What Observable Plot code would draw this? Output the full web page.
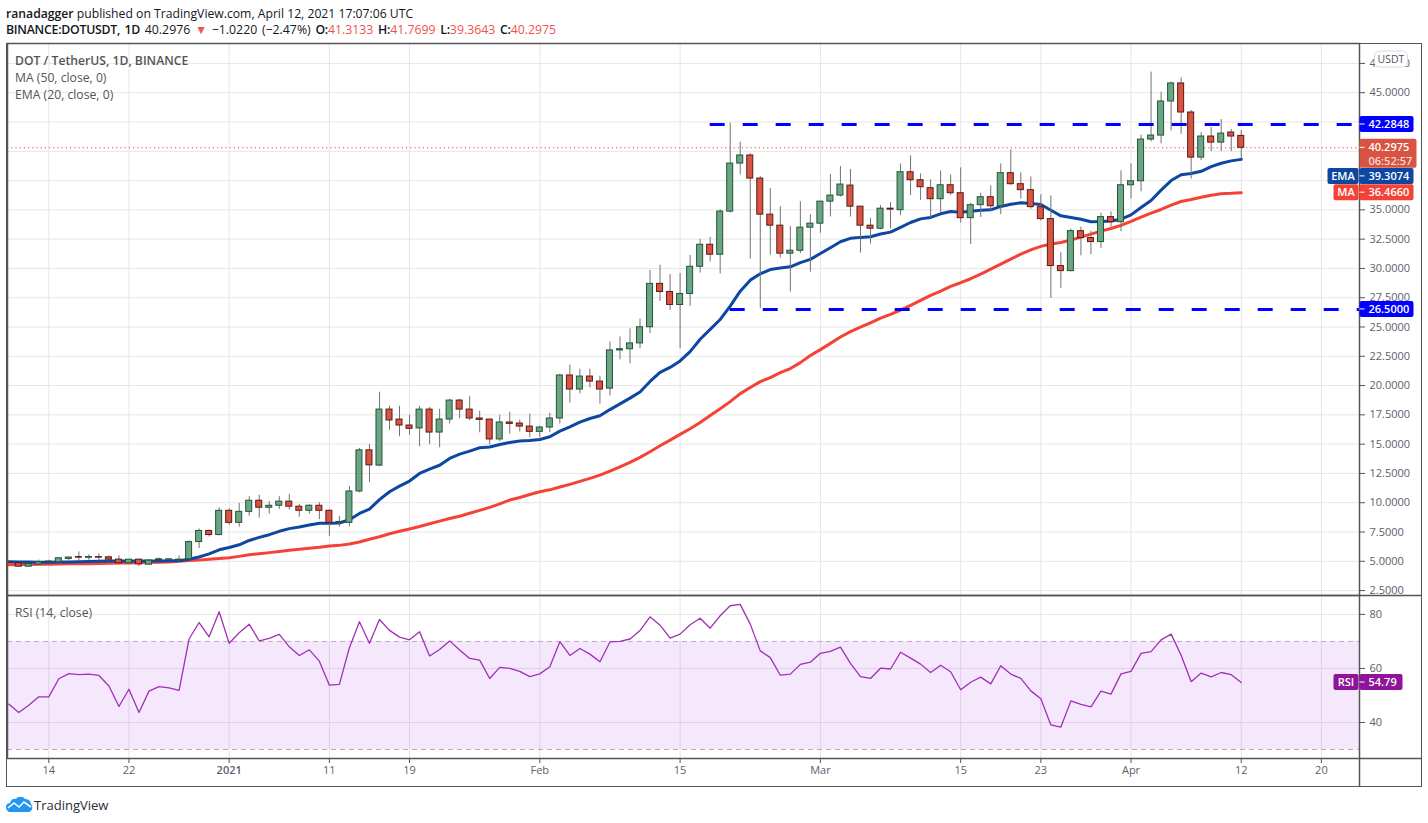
<!DOCTYPE html>
<html>
<head>
<meta charset="utf-8">
<script src="https://cdn.jsdelivr.net/npm/d3@7"></script>
<script src="https://cdn.jsdelivr.net/npm/@observablehq/plot@0.6"></script>
<style>
html,body{margin:0;padding:0;background:#fff;overflow:hidden}
#wrap{position:relative;width:1428px;height:823px;font-family:"Open Sans",sans-serif;color:#131722}
#wrap svg.pane{position:absolute;left:0;background:transparent;overflow:visible}
.h{position:absolute;left:6px;white-space:nowrap;font-size:12.2px;line-height:16px}
.h b{font-weight:600}
.r{color:#ef5350}
#outer{position:absolute;left:6px;top:43px;width:1414px;height:742px;border:1.5px solid #555;pointer-events:none}
#brand{position:absolute;left:34px;top:796px;font-size:13px;line-height:18px;color:#2a2e39}
#logo{position:absolute;left:6px;top:796px}
#line2 b{letter-spacing:-0.25px}
</style>
</head>
<body>
<div id="wrap">
  <div class="h" style="top:6px"><b>ranadagger</b> published on TradingView.com, April 12, 2021 17:07:06 UTC</div>
  <div class="h" id="line2" style="top:22px;font-size:12.3px;word-spacing:1.5px"><b>BINANCE:DOTUSDT, 1D</b> 40.2976 <span class="r">▼</span> −1.0220 (−2.47%) <b>O:</b><span class="r">41.3133</span> <b>H:</b><span class="r">41.7699</span> <b>L:</b><span class="r">39.3643</span> <b>C:</b><span class="r">40.2975</span></div>
  <svg id="logo" width="27" height="17" viewBox="0 0 27 17"><path d="M0 11 C0 8 2 7 4 7 C5 3 8 2 10 3 C12 0 17 0 19 3 C23 3 25 6 25 8 C27 10 27 15 23 16 L3 16 C1 15 0 13 0 11Z" fill="#2196f3"/><path d="M2 12 L8 7 L13 11 L18 6 L25 11" fill="none" stroke="#fff" stroke-width="1.6"/></svg>
  <div id="brand">TradingView</div>
</div>
<script>
const opens = [
4.92,4.83,4.54,4.71,4.92,4.91,5.20,5.36,5.30,5.36,
5.34,5.14,4.83,5.14,4.71,5.09,5.15,5.10,5.17,6.64,
7.59,7.24,9.31,8.28,9.22,10.17,9.57,9.74,10.09,9.66,
9.31,9.74,9.31,8.28,8.28,10.96,14.47,13.17,17.95,17.10,
16.59,16.34,17.95,15.99,17.10,18.72,17.95,17.19,17.10,15.40,
16.85,16.76,16.50,16.05,16.42,17.19,20.86,19.66,20.77,20.34,
19.74,23.00,23.10,23.60,24.98,28.68,27.99,26.88,27.82,30.14,
32.02,31.17,34.85,38.95,39.64,37.67,34.59,33.65,31.26,31.51,
33.48,33.82,35.70,36.22,37.07,35.27,33.65,33.39,35.10,34.97,
38.21,37.53,36.85,35.91,37.10,36.42,34.29,35.40,36.08,35.31,
38.13,37.19,36.68,35.23,34.21,30.20,29.77,33.18,32.59,32.25,
34.38,33.95,37.10,37.44,41.00,41.34,44.25,45.79,43.31,39.46,
41.26,40.74,41.60,41.3133];
const closes = [
4.88,4.54,4.77,4.91,4.98,5.26,5.32,5.31,5.36,5.31,
5.14,4.83,5.14,4.74,5.06,5.17,5.17,5.14,6.64,7.59,
7.24,9.31,8.28,9.22,10.17,9.57,9.74,10.09,9.66,9.31,
9.74,9.31,8.28,8.36,10.96,14.47,13.19,17.95,17.02,16.59,
16.31,17.95,15.99,17.10,18.72,17.95,17.19,17.07,15.40,16.85,
16.73,16.50,16.05,16.42,17.19,20.86,19.66,20.77,20.34,19.66,
23.00,23.10,23.60,24.98,28.68,27.99,26.88,27.82,30.14,32.02,
31.17,34.85,38.95,39.64,37.67,34.59,33.65,31.26,31.51,33.48,
33.82,35.70,36.22,37.16,35.27,33.65,33.39,35.10,35.02,38.21,
37.53,36.93,35.91,37.10,36.42,34.29,35.40,36.08,35.31,38.13,
37.19,36.68,35.23,34.21,30.20,29.77,33.18,32.59,32.25,34.38,
33.95,37.10,37.44,41.00,41.34,44.25,45.79,43.31,39.46,41.26,
40.74,41.51,41.26,40.2975];
const highs = [
4.98,4.88,4.80,5.10,5.08,5.27,5.35,5.80,5.55,5.63,
5.46,5.46,5.14,5.16,5.08,5.29,5.24,5.46,6.75,7.76,
7.67,9.57,9.48,9.94,10.52,10.63,10.09,10.52,10.72,9.86,
9.83,10.00,9.40,8.82,11.40,14.64,14.98,19.43,18.24,18.24,
17.47,18.24,18.13,17.98,18.84,18.84,19.09,17.81,17.12,17.47,
17.73,17.05,17.56,16.53,17.64,20.97,21.75,21.40,21.40,20.80,
23.72,24.15,24.84,25.67,29.83,30.26,29.48,29.57,31.10,32.48,
32.65,35.02,42.40,40.78,39.80,37.84,36.81,35.27,33.59,35.70,
34.59,35.72,38.01,38.70,38.44,35.30,34.28,35.36,35.62,38.92,
39.60,38.07,37.56,38.33,37.98,38.58,35.57,36.42,37.05,38.92,
40.12,38.16,37.81,36.28,36.19,31.34,33.35,33.52,33.18,34.72,
34.83,38.33,38.92,41.37,46.76,45.05,45.91,46.25,43.48,41.60,
42.03,42.71,41.86,41.7699];
const lows = [
4.85,4.52,4.50,4.70,4.90,4.85,5.05,5.03,5.03,5.03,
5.00,4.68,4.83,4.54,4.68,5.05,5.08,4.95,5.15,6.09,
7.07,7.18,8.10,7.90,8.85,8.68,9.02,9.43,9.37,8.76,
9.02,8.56,7.13,7.90,7.93,10.84,11.70,13.07,16.19,15.63,
15.77,14.77,14.97,14.69,16.73,17.16,16.99,15.97,14.92,15.20,
15.85,16.05,15.57,15.57,15.97,16.73,18.51,19.28,19.80,18.42,
19.11,22.20,21.86,23.15,24.44,27.19,26.42,23.15,26.76,29.60,
30.54,29.52,34.73,37.98,30.80,26.55,31.14,30.88,27.98,31.26,
29.69,33.00,34.39,36.10,34.39,31.31,32.08,33.30,33.39,34.52,
36.22,35.80,34.29,34.72,36.25,33.87,32.05,34.35,34.89,34.60,
37.10,35.91,35.06,34.04,27.44,28.30,29.70,31.08,31.17,31.71,
33.52,33.13,35.94,36.54,40.80,40.63,41.74,41.46,37.64,39.20,
39.97,39.97,39.97,39.3643];
const emaValues = [
4.96,4.95,4.93,4.92,4.92,4.93,4.95,4.97,4.99,5.00,
5.02,5.02,5.02,5.03,5.02,5.03,5.04,5.05,5.17,5.37,
5.63,5.98,6.18,6.41,6.78,7.04,7.27,7.56,7.79,7.93,
8.10,8.25,8.25,8.27,8.55,9.08,9.45,10.27,10.94,11.42,
11.85,12.50,12.87,13.20,13.78,14.15,14.40,14.69,14.75,14.97,
15.14,15.26,15.31,15.40,15.63,16.11,16.48,16.88,17.19,17.42,
17.95,18.44,18.93,19.45,20.35,21.12,21.55,22.10,22.90,23.95,
24.80,25.64,26.78,28.06,29.00,29.54,29.90,30.03,30.14,30.49,
30.77,31.28,31.77,32.28,32.57,32.65,32.71,32.94,33.10,33.50,
33.92,34.23,34.35,34.66,34.86,34.80,34.89,34.97,35.00,35.29,
35.48,35.60,35.54,35.46,34.97,34.49,34.35,34.20,33.98,34.00,
34.04,34.20,34.57,35.20,35.80,36.68,37.50,38.00,38.10,38.29,
38.69,38.98,39.18,39.31];
const maValues = [
4.71,4.72,4.73,4.74,4.75,4.77,4.78,4.79,4.80,4.82,
4.83,4.85,4.86,4.87,4.89,4.91,4.95,5.00,5.06,5.10,
5.17,5.24,5.31,5.42,5.56,5.65,5.74,5.84,5.94,6.03,
6.11,6.19,6.31,6.36,6.48,6.65,6.88,7.10,7.35,7.56,
7.76,7.97,8.20,8.43,8.65,8.85,9.10,9.35,9.60,9.90,
10.23,10.45,10.70,10.94,11.10,11.34,11.57,11.82,12.08,12.36,
12.70,13.07,13.44,13.87,14.35,14.86,15.34,15.83,16.31,16.85,
17.45,18.03,18.63,19.31,19.83,20.34,20.68,21.10,21.45,21.96,
22.56,23.07,23.60,24.15,24.60,24.98,25.35,25.75,26.08,26.45,
26.85,27.27,27.70,28.07,28.47,28.78,29.12,29.52,29.94,30.37,
30.80,31.22,31.59,31.88,32.08,32.22,32.42,32.67,32.93,33.18,
33.41,33.67,34.01,34.38,34.72,35.03,35.40,35.71,35.88,36.07,
36.24,36.38,36.41,36.47];
const rsiValues = [
46.8,43.7,46.4,49.5,49.5,56.2,58.1,57.7,57.9,57.4,
53.5,45.9,52.3,43.7,51.6,53.3,52.8,51.9,70.9,77.0,
71.7,81.0,69.3,73.2,76.4,70.2,71.1,72.6,68.0,64.8,
66.9,62.7,53.8,54.1,67.7,77.3,69.3,78.1,74.1,71.6,
70.6,73.6,64.6,67.0,70.2,66.8,63.7,63.1,56.3,60.4,
60.0,58.9,57.0,58.0,60.6,69.9,64.8,67.4,65.3,62.5,
69.8,70.0,70.9,74.0,79.1,76.0,71.2,72.7,76.2,78.6,
74.9,79.5,83.2,83.7,76.4,66.5,64.0,57.5,57.9,61.5,
62.3,65.6,66.3,67.9,61.9,57.0,56.3,60.1,59.8,66.0,
63.8,61.6,58.5,61.2,58.8,52.1,54.9,56.8,54.3,61.0,
57.9,56.3,51.7,48.8,39.1,38.3,48.0,46.7,45.8,51.6,
50.5,58.0,58.9,65.6,66.2,70.6,72.7,64.9,55.1,58.3,
56.9,58.5,57.7,54.79];
const priceTicks = d3.range(2.5, 47.6, 2.5);
const rsiTicks = [80, 60, 40];
const dayTicks = [
  [2020,11,14,"14"],[2020,11,22,"22"],[2021,0,11,"11"],[2021,0,19,"19"],[2021,1,1,"Feb"],
  [2021,1,15,"15"],[2021,2,1,"Mar"],[2021,2,15,"15"],[2021,2,23,"23"],[2021,3,1,"Apr"],
  [2021,3,12,"12"],[2021,3,20,"20"]];
const yearTick = [2021,0,1,"2021"];
const resistance = 42.2848, support = 26.5, lastPrice = 40.2975;

const DAY = 864e5;
const start = Date.UTC(2020,11,10);
const dayOf = i => new Date(start + i*DAY);
const candles = opens.map((o,i)=>({date:dayOf(i),o,c:closes[i],h:highs[i],l:lows[i],up:closes[i]>=o,ema:emaValues[i],ma:maValues[i],rsi:rsiValues[i]}));
const xDomain = [dayOf(-0.122), dayOf(134.8)];
const mk = t => new Date(Date.UTC(t[0],t[1],t[2]));
const labelMap = new Map([...dayTicks,yearTick].map(t=>[+mk(t),t[3]]));
const xTicks = [...dayTicks,yearTick].map(mk);
const GRID="#e6e6e6", AXIS="#555", TXT="#5d606b", FONT='"Open Sans",sans-serif';
const green="#6ba583", greenB="#225437", red="#d75442", redB="#5b1a13", wick="#737375";

const wrap=document.getElementById("wrap");
const main = Plot.plot({
  width:1428,height:595,marginTop:43,marginBottom:0,marginLeft:7,marginRight:69,
  style:{fontFamily:FONT,fontSize:"11px",background:"transparent"},
  x:{type:"utc",domain:xDomain,axis:null},
  y:{domain:[2.08,49.2],axis:null},
  marks:[
    Plot.ruleX(xTicks,{stroke:GRID}),
    Plot.ruleY(priceTicks,{stroke:GRID}),
    Plot.ruleY([lastPrice],{stroke:"#e2483d",strokeWidth:1,strokeDasharray:"1.2,3"}),
    Plot.line(candles,{x:"date",y:"ma",stroke:"#f44336",strokeWidth:3,clip:true}),
    Plot.line(candles,{x:"date",y:"ema",stroke:"#0d47a1",strokeWidth:3,clip:true}),
    Plot.ruleX(candles,{x:"date",y1:"l",y2:"h",stroke:wick,strokeWidth:1,clip:true}),
    Plot.rect(candles,{x1:d=>new Date(+d.date-0.3*DAY),x2:d=>new Date(+d.date+0.3*DAY),y1:"o",y2:"c",fill:d=>d.up?green:red,stroke:d=>d.up?greenB:redB,strokeWidth:1,clip:true}),
    Plot.ruleY([resistance],{x1:dayOf(70),x2:xDomain[1],stroke:"#0000ff",strokeWidth:3,strokeDasharray:"15,18"}),
    Plot.ruleY([support],{x1:dayOf(72),x2:xDomain[1],stroke:"#0000ff",strokeWidth:3,strokeDasharray:"15,18"}),
    Plot.axisY(priceTicks,{anchor:"right",label:null,tickSize:5,tickPadding:5,stroke:AXIS,fill:TXT,tickFormat:d=>d.toFixed(4)}),
    Plot.frame({stroke:AXIS,strokeWidth:1.5})
  ]
});
main.setAttribute("class","pane"); main.style.top="0px";
wrap.insertBefore(main,wrap.firstChild);

const rsiPane = Plot.plot({
  width:1428,height:191,marginTop:0,marginBottom:28,marginLeft:7,marginRight:69,
  style:{fontFamily:FONT,fontSize:"11px",background:"transparent"},
  x:{type:"utc",domain:xDomain,axis:null},
  y:{domain:[26.67,87],axis:null},
  marks:[
    Plot.ruleX(xTicks,{stroke:GRID}),
    Plot.ruleY(rsiTicks,{stroke:GRID}),
    Plot.rect([{a:30,b:70}],{x1:xDomain[0],x2:xDomain[1],y1:"a",y2:"b",fill:"#9105eb",fillOpacity:0.09}),
    Plot.ruleY([30,70],{stroke:"#b9a9bf",strokeDasharray:"5,4"}),
    Plot.line(candles,{x:"date",y:"rsi",stroke:"#a030b4",strokeWidth:1.3}),
    Plot.axisY(rsiTicks,{anchor:"right",label:null,tickSize:5,tickPadding:5,stroke:AXIS,fill:TXT}),
    Plot.axisX(dayTicks.map(mk),{anchor:"bottom",label:null,tickSize:5,tickPadding:3,stroke:AXIS,fill:TXT,tickFormat:d=>labelMap.get(+d)}),
    Plot.axisX([mk(yearTick)],{anchor:"bottom",label:null,tickSize:5,tickPadding:3,stroke:AXIS,fill:TXT,fontWeight:600,tickFormat:d=>labelMap.get(+d)}),
    Plot.frame({stroke:AXIS,strokeWidth:1.5})
  ]
});
rsiPane.setAttribute("class","pane"); rsiPane.style.top="595px";
wrap.insertBefore(rsiPane,main.nextSibling);

const outer=document.createElement("div");outer.id="outer";wrap.appendChild(outer);

// pane separators carried on across the price scale and time scale
const RX = 1359.5;
d3.select(main).append("line").attr("x1",RX).attr("x2",1421).attr("y1",595.5).attr("y2",595.5).attr("stroke",AXIS).attr("stroke-width",1.5);
d3.select(rsiPane).append("line").attr("x1",RX).attr("x2",1421).attr("y1",163.5).attr("y2",163.5).attr("stroke",AXIS).attr("stroke-width",1.5);
d3.select(rsiPane).append("line").attr("x1",RX).attr("x2",RX).attr("y1",163).attr("y2",191).attr("stroke",AXIS).attr("stroke-width",1.5);

// in-pane legend text and price tags, positioned from the library's own y scales
function paneText(svg,x,y,txt,weight){
  d3.select(svg).append("text").attr("x",x).attr("y",y).attr("dy","0.35em").attr("fill","#555").attr("font-family",FONT)
    .attr("text-anchor","start").attr("font-size","12.2px").attr("font-weight",weight||400).text(txt);
}
paneText(main,15,60.5,"DOT / TetherUS, 1D, BINANCE",600);
paneText(main,15,77.5,"MA (50, close, 0)");
paneText(main,15,94.5,"EMA (20, close, 0)");
paneText(rsiPane,15,18,"RSI (14, close)");

const PX = 1359.5;
function tag(svg,cy,o){
  const s=d3.select(svg).append("g").attr("font-family",FONT).attr("font-size","11px").attr("text-anchor","start");
  const top=o.top??-8, bot=o.bot??8;
  s.append("rect").attr("x",PX).attr("y",cy+top).attr("width",o.w).attr("height",bot-top).attr("rx",2).attr("fill",o.fill);
  if(o.label){
    s.append("rect").attr("x",PX-o.lw-1).attr("y",cy+top).attr("width",o.lw).attr("height",bot-top).attr("rx",2).attr("fill",o.fill);
    s.append("text").attr("x",PX-1-o.lw/2).attr("y",cy).attr("dy","0.35em").attr("text-anchor","middle").attr("fill","#fff").attr("font-weight",600).text(o.label);
  }
  s.append("line").attr("x1",PX).attr("x2",PX+5).attr("y1",cy).attr("y2",cy).attr("stroke","#fff");
  s.append("text").attr("x",PX+9).attr("y",cy).attr("dy","0.35em").attr("fill","#fff").attr("font-weight",600).text(o.text);
  if(o.sub) s.append("text").attr("x",PX+9).attr("y",cy+14).attr("dy","0.35em").attr("fill","#f5d9d5").attr("font-weight",600).text(o.sub);
}
const Y=v=>main.scale("y").apply(v), YR=v=>rsiPane.scale("y").apply(v);
tag(main,Y(resistance),{w:54,fill:"#0000ff",text:"42.2848"});
tag(main,Y(lastPrice),{w:57,fill:red,text:"40.2975",sub:"06:52:57",top:-8.5,bot:20.5});
tag(main,Y(39.3074)+17,{w:54,fill:"#0d47a1",text:"39.3074",label:"EMA",lw:31});
tag(main,Y(36.466),{w:54,fill:"#f44336",text:"36.4660",label:"MA",lw:25});
tag(main,Y(support),{w:54,fill:"#0000ff",text:"26.5000"});
tag(rsiPane,YR(54.79),{w:43,fill:"#8e1599",text:"54.79",label:"RSI",lw:25});

// unit badge
const ub=d3.select(main).append("g").attr("font-family",FONT);
ub.append("rect").attr("x",1374.5).attr("y",51).attr("width",33).attr("height",16).attr("rx",5).attr("fill","#fff").attr("stroke","#d8d8e2");
ub.append("text").attr("x",1391).attr("y",59).attr("dy","0.35em").attr("text-anchor","middle").attr("font-size","10.5px").attr("fill","#555").text("USDT");
</script>
</body>
</html>
